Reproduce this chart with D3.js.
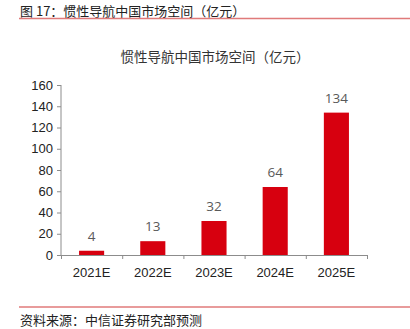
<!DOCTYPE html>
<html><head><meta charset="utf-8">
<script src="https://cdn.jsdelivr.net/npm/d3@7"></script>
<style>body{margin:0;background:#fff}svg{display:block}</style>
</head><body>
<script>
const categories = ["2021E","2022E","2023E","2024E","2025E"];
const values = [4,13,32,64,134];
const yTicks = [0,20,40,60,80,100,120,140,160];
const pageTitle = "图 17：惯性导航中国市场空间（亿元）";
const chartTitle = "惯性导航中国市场空间（亿元）";
const source = "资料来源：中信证券研究部预测";

const W=410,H=329;
const font = "'Liberation Sans', Arial, 'Noto Sans CJK SC', sans-serif";
const svg = d3.select("body").append("svg").attr("width",W).attr("height",H);

svg.append("text").attr("x",20).attr("y",15.5).attr("font-family","'Noto Sans CJK SC', sans-serif")
  .attr("font-size",13).attr("fill","#222").text(pageTitle);
svg.append("line").attr("x1",19).attr("x2",410).attr("y1",18.5).attr("y2",18.5)
  .attr("stroke","#e07a7a").attr("stroke-width",1.3);

svg.append("text").attr("x",215).attr("y",62).attr("text-anchor","middle")
  .attr("font-family","'Noto Sans CJK SC', sans-serif").attr("font-size",13.5).attr("fill","#333").text(chartTitle);

const x = d3.scaleBand().domain(categories).range([61,367]).paddingInner(0.59).paddingOuter(0.295);
const y = d3.scaleLinear().domain([0,160]).range([255,85]);

const yAxis = svg.append("g").attr("transform","translate(61,0)")
  .call(d3.axisLeft(y).tickValues(yTicks).tickSize(4).tickPadding(4));
const xAxis = svg.append("g").attr("transform","translate(0,255)")
  .call(d3.axisBottom(d3.scaleLinear().domain([0,5]).range([61,367])).tickValues([0,1,2,3,4,5]).tickSize(4).tickFormat(""));
[yAxis,xAxis].forEach(a=>{
  a.selectAll("path,line").attr("stroke","#8c8c8c");
  a.selectAll("text").attr("font-family",font).attr("font-size",13).attr("fill","#222");
});
yAxis.select(".domain").attr("d","M-0,85V255");

svg.append("g").selectAll("text").data(categories).join("text")
  .attr("x",d=>x(d)+x.bandwidth()/2).attr("y",277).attr("text-anchor","middle")
  .attr("font-family",font).attr("font-size",13).attr("fill","#222").text(d=>d);

svg.append("g").selectAll("rect").data(values).join("rect")
  .attr("x",(d,i)=>x(categories[i])).attr("width",x.bandwidth())
  .attr("y",d=>y(d)).attr("height",d=>y(0)-y(d)).attr("fill","#d7000f");

svg.append("g").selectAll("text").data(values).join("text")
  .attr("x",(d,i)=>x(categories[i])+x.bandwidth()/2).attr("y",d=>y(d)-10)
  .attr("text-anchor","middle").attr("font-family","'Open Sans', sans-serif").attr("font-size",13.5)
  .attr("fill","#595959").text(d=>d);

svg.append("line").attr("x1",19).attr("x2",410).attr("y1",307).attr("y2",307)
  .attr("stroke","#e07a7a").attr("stroke-width",1.3);
svg.append("text").attr("x",20).attr("y",325).attr("font-family","'Noto Sans CJK SC', sans-serif")
  .attr("font-size",13).attr("fill","#222").text(source);
</script>
</body></html>
